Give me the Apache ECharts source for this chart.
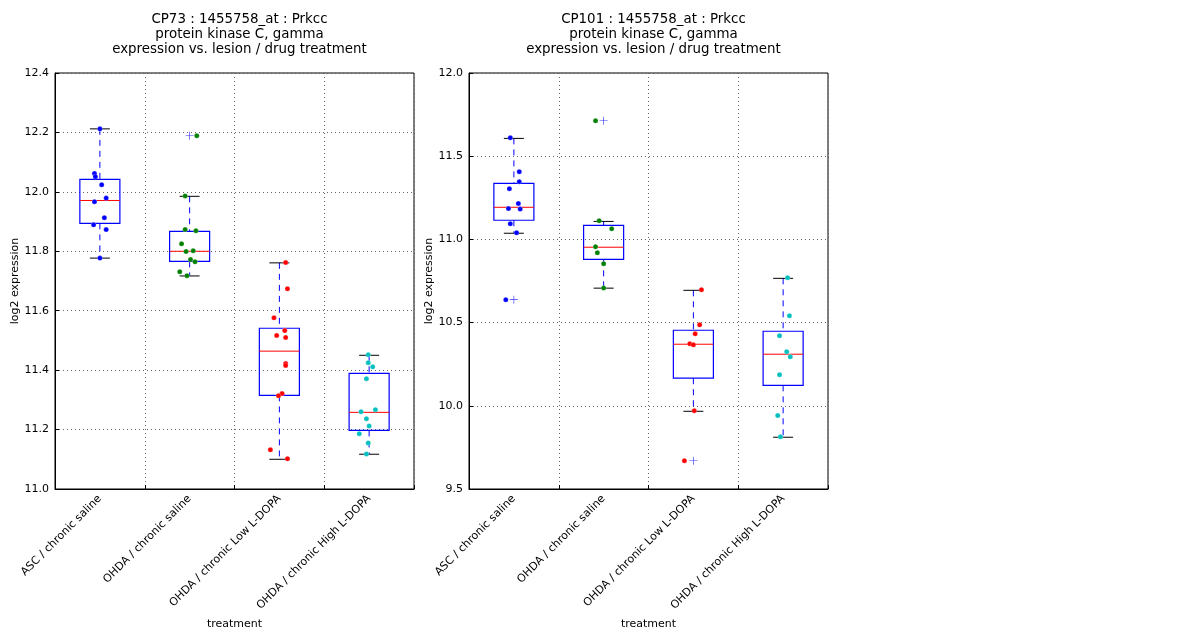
<!DOCTYPE html>
<html>
<head>
<meta charset="UTF-8">
<title>Prkcc expression</title>
<script type="text/javascript" src="https://cdn.jsdelivr.net/npm/echarts@6/dist/echarts.min.js"></script>
<style>
  html, body { margin: 0; padding: 0; background: #fff; }
</style>
</head>
<body>
<div id="main" style="width: 1200px;height:640px;"></div>
<script type="text/javascript">

// treatment groups
var categories = ['ASC / chronic saline', 'OHDA / chronic saline', 'OHDA / chronic Low L-DOPA', 'OHDA / chronic High L-DOPA'];
var groupColors = ['#0000ff', '#008000', '#ff0000', '#00bfbf'];

// CP73 : points per group, with their horizontal jitter
var cp73Values = [
  [12.212, 12.062, 12.051, 12.024, 11.979, 11.967, 11.913, 11.889, 11.873, 11.777],
  [12.189, 11.986, 11.873, 11.869, 11.825, 11.799, 11.802, 11.772, 11.765, 11.731, 11.718],
  [11.762, 11.674, 11.576, 11.533, 11.517, 11.510, 11.422, 11.416, 11.321, 11.314, 11.132, 11.102],
  [11.452, 11.425, 11.411, 11.371, 11.267, 11.260, 11.236, 11.212, 11.186, 11.155, 11.118]
];
var cp73Jitter = [
  [0.00, -0.06, -0.05, 0.02, 0.07, -0.06, 0.05, -0.07, 0.07, 0.00],
  [0.08, -0.05, -0.05, 0.07, -0.09, -0.04, 0.04, 0.01, 0.06, -0.11, -0.03],
  [0.07, 0.09, -0.06, 0.06, -0.03, 0.07, 0.07, 0.07, 0.03, -0.01, -0.10, 0.09],
  [-0.01, -0.01, 0.04, -0.03, 0.07, -0.09, -0.03, 0.00, -0.11, -0.01, -0.03]
];
// [low whisker, Q1, median, Q3, high whisker]
var cp73Boxes = [
  [11.777, 11.894, 11.971, 12.042, 12.212],
  [11.717, 11.766, 11.800, 11.867, 11.985],
  [11.100, 11.315, 11.464, 11.541, 11.761],
  [11.117, 11.197, 11.258, 11.389, 11.450]
];
var cp73Outliers = [[2, 12.189]];

// CP101
var cp101Values = [
  [11.611, 11.407, 11.347, 11.305, 11.215, 11.185, 11.182, 11.094, 11.040, 10.638],
  [11.713, 11.112, 11.064, 10.956, 10.920, 10.854, 10.708],
  [10.698, 10.487, 10.433, 10.373, 10.367, 9.971, 9.670],
  [10.770, 10.541, 10.421, 10.325, 10.295, 10.187, 9.941, 9.814]
];
var cp101Jitter = [
  [-0.04, 0.06, 0.06, -0.05, 0.05, -0.06, 0.07, -0.04, 0.03, -0.09],
  [-0.09, -0.05, 0.09, -0.09, -0.07, 0.00, 0.00],
  [0.09, 0.07, 0.02, -0.04, 0.00, 0.01, -0.10],
  [0.05, 0.07, -0.04, 0.04, 0.08, -0.04, -0.06, -0.03]
];
var cp101Boxes = [
  [11.037, 11.115, 11.193, 11.337, 11.607],
  [10.707, 10.880, 10.953, 11.084, 11.108],
  [9.967, 10.166, 10.370, 10.454, 10.694],
  [9.811, 10.123, 10.310, 10.448, 10.766]
];
var cp101Outliers = [[1, 10.638], [2, 11.713], [3, 9.670]];

var fontFamily = 'DejaVu Sans';
var plusSymbol = 'path://M0,4.6h10v0.8h-10z M4.6,0h0.8v10h-0.8z';

function renderBox(params, api) {
  var x = api.value(0);
  var lo = api.coord([x, api.value(1)]);
  var q1 = api.coord([x, api.value(2)]);
  var med = api.coord([x, api.value(3)]);
  var q3 = api.coord([x, api.value(4)]);
  var hi = api.coord([x, api.value(5)]);
  var half = api.coord([x + 0.223, api.value(3)])[0] - med[0];
  var cap = half * 0.5;
  var cx = med[0];
  var dashed = { stroke: '#0000ff', lineWidth: 1, lineDash: [6, 5] };
  return {
    type: 'group',
    children: [
      { type: 'line', shape: { x1: cx, y1: hi[1], x2: cx, y2: q3[1] }, style: dashed },
      { type: 'line', shape: { x1: cx, y1: q1[1], x2: cx, y2: lo[1] }, style: dashed },
      { type: 'line', shape: { x1: cx - cap, y1: hi[1], x2: cx + cap, y2: hi[1] }, style: { stroke: '#000', lineWidth: 1 } },
      { type: 'line', shape: { x1: cx - cap, y1: lo[1], x2: cx + cap, y2: lo[1] }, style: { stroke: '#000', lineWidth: 1 } },
      { type: 'rect', shape: { x: cx - half, y: q3[1], width: half * 2, height: q1[1] - q3[1] },
        style: { fill: 'none', stroke: '#0000ff', lineWidth: 1.2 } },
      { type: 'line', shape: { x1: cx - half, y1: med[1], x2: cx + half, y2: med[1] }, style: { stroke: '#ff0000', lineWidth: 1 } }
    ]
  };
}

var grids = [];
var xAxes = [];
var yAxes = [];
var series = [];
var titles = [];

function addPanel(idx, left, name, values, jitter, boxes, outliers, ymin, ymax, step) {
  grids.push({ left: left, top: 73, width: 359, height: 416, show: true, borderColor: '#000', borderWidth: 1, backgroundColor: '#fff' });
  titles.push({
    text: name + ' : 1455758_at : Prkcc\nprotein kinase C, gamma\nexpression vs. lesion / drug treatment',
    left: left + 179.5, top: 7, textAlign: 'center',
    textStyle: { fontFamily: fontFamily, fontSize: 13.4, fontWeight: 'normal', color: '#000', lineHeight: 15 }
  });
  // shown category axis: labels and vertical grid lines
  xAxes.push({
    type: 'category', gridIndex: idx, data: categories,
    name: 'treatment', nameLocation: 'middle', nameGap: 128,
    nameTextStyle: { fontFamily: fontFamily, fontSize: 11, color: '#000' },
    axisLine: { lineStyle: { color: '#000' } },
    axisTick: { show: true, inside: true, length: 4, lineStyle: { color: '#000' } },
    axisLabel: { rotate: 45, interval: 0, margin: 8, fontFamily: fontFamily, fontSize: 11, color: '#000' },
    splitLine: { show: true, lineStyle: { color: '#666', type: [1, 3] } }
  });
  // hidden value axis used to place boxes and jittered points
  xAxes.push({
    type: 'value', gridIndex: idx, min: 0.5, max: 4.5, show: false
  });
  yAxes.push({
    type: 'value', gridIndex: idx, min: ymin, max: ymax, interval: step,
    name: 'log2 expression', nameLocation: 'middle', nameGap: 33,
    nameTextStyle: { fontFamily: fontFamily, fontSize: 11, color: '#000' },
    axisLine: { show: true, lineStyle: { color: '#000' } },
    axisTick: { show: true, inside: true, length: 4, lineStyle: { color: '#000' } },
    axisLabel: { fontFamily: fontFamily, fontSize: 11, color: '#000', margin: 6,
      formatter: function (v) { return v.toFixed(1); } },
    splitLine: { show: true, lineStyle: { color: '#666', type: [1, 3] } }
  });
  var xi = idx * 2 + 1;
  series.push({
    type: 'custom', xAxisIndex: xi, yAxisIndex: idx, z: 2,
    renderItem: renderBox,
    encode: { x: 0, y: [1, 2, 3, 4, 5] },
    data: boxes.map(function (b, i) { return [i + 1].concat(b); })
  });
  series.push({
    type: 'scatter', xAxisIndex: xi, yAxisIndex: idx, z: 3,
    symbol: plusSymbol, symbolSize: 8,
    itemStyle: { color: '#0000ff' },
    data: outliers.map(function (o) { return [o[0], o[1]]; })
  });
  values.forEach(function (vals, g) {
    series.push({
      type: 'scatter', xAxisIndex: xi, yAxisIndex: idx, z: 4,
      symbol: 'circle', symbolSize: 5,
      itemStyle: { color: groupColors[g], borderColor: 'rgba(255,255,255,0.5)', borderWidth: 0.5, opacity: 1 },
      data: vals.map(function (v, k) { return [g + 1 + jitter[g][k], v]; })
    });
  });
}

addPanel(0, 55, 'CP73', cp73Values, cp73Jitter, cp73Boxes, cp73Outliers, 11.0, 12.4, 0.2);
addPanel(1, 469, 'CP101', cp101Values, cp101Jitter, cp101Boxes, cp101Outliers, 9.5, 12.0, 0.5);

var myChart = echarts.init(document.getElementById('main'));
myChart.setOption({
  animation: false,
  backgroundColor: '#fff',
  textStyle: { fontFamily: fontFamily },
  title: titles,
  grid: grids,
  xAxis: xAxes,
  yAxis: yAxes,
  series: series
});
</script>
</body>
</html>
